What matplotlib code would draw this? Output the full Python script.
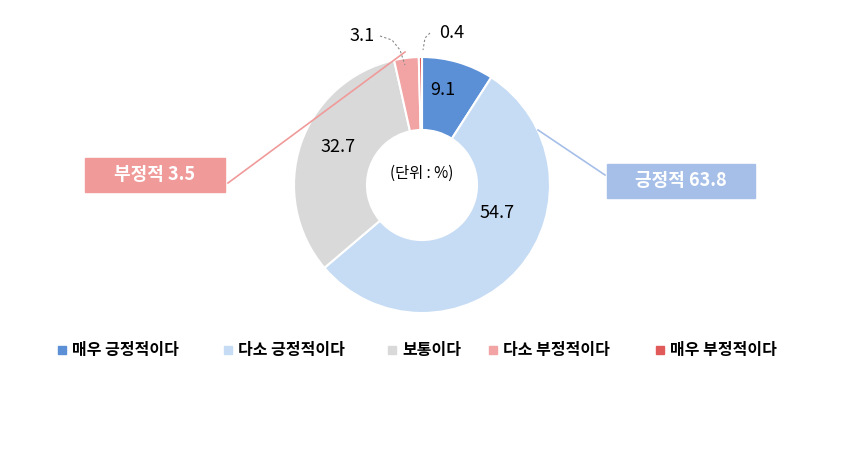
import matplotlib.pyplot as plt
from matplotlib.patches import Rectangle

plt.rcParams['font.family'] = ['Noto Sans CJK KR', 'DejaVu Sans']

categories = ['매우 긍정적이다', '다소 긍정적이다', '보통이다', '다소 부정적이다', '매우 부정적이다']
values = [9.1, 54.7, 32.7, 3.1, 0.4]
colors = ['#5b8fd6', '#c6dcf4', '#d9d9d9', '#f2a3a3', '#e05a5a']
label_text = ['9.1', '54.7', '32.7', '3.1', '0.4']
neg_total = 3.5
pos_total = 63.8

fig = plt.figure(figsize=(8.52, 4.55), dpi=100)
ax = fig.add_axes([0, 0, 1, 1])

cx, cy, r = 422, 185, 128
# y axis is inverted below, so angles are mirrored: start at -90, go counterclockwise
wedges, _ = ax.pie(values, colors=colors, startangle=-90, counterclock=True,
                   center=(cx, cy), radius=r,
                   wedgeprops=dict(width=r * 0.57, edgecolor='white', linewidth=1.5))
ax.set_xlim(0, 852)
ax.set_ylim(455, 0)
ax.set_aspect('equal')
ax.axis('off')

# value labels
pos = [(443, 90), (497, 213), (338, 147), (362, 36), (452, 33)]
for (x, y), t in zip(pos, label_text):
    ax.text(x, y, t, ha='center', va='center', fontsize=13)
ax.plot([380, 392, 400, 405], [36, 40, 50, 65], ls=(0, (2, 2)), color='#888888', lw=0.8)
ax.plot([430, 425, 423], [33, 38, 50], ls=(0, (2, 2)), color='#888888', lw=0.8)
ax.text(cx, 173, '(단위 : %)', ha='center', va='center', fontsize=11)

# summary boxes
ax.add_patch(Rectangle((85, 158), 140, 34, color='#f09a9a'))
ax.text(155, 175, f'부정적 {neg_total}', ha='center', va='center', fontsize=13,
        color='white', fontweight='bold')
ax.plot([228, 405], [183, 52], color='#f09a9a', lw=1.2)
ax.add_patch(Rectangle((607, 164), 148, 34, color='#a6bfe8'))
ax.text(681, 181, f'긍정적 {pos_total}', ha='center', va='center', fontsize=13,
        color='white', fontweight='bold')
ax.plot([538, 605], [130, 175], color='#a6bfe8', lw=1.2)

# legend
lx = [62, 228, 392, 493, 660]
for x, c, name in zip(lx, colors, categories):
    ax.add_patch(Rectangle((x - 4, 346), 8, 8, color=c))
    ax.text(x + 10, 350, name, ha='left', va='center', fontsize=11.5, fontweight='bold')

fig.savefig('out.png', dpi=100)
